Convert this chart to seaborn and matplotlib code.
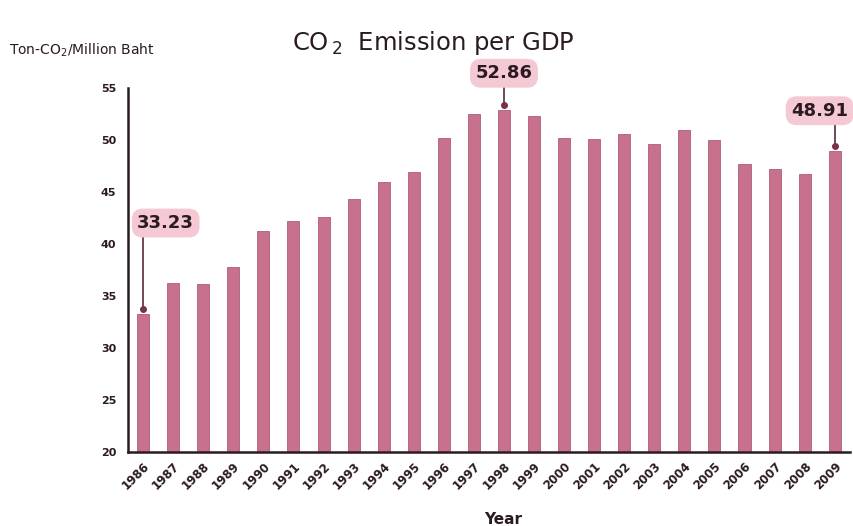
# CO2 emission per GDP, Thailand 1986-2009 (bar chart with highlighted values)

import matplotlib
matplotlib.use("Agg")
import matplotlib.pyplot as plt
import seaborn as sns

years = [str(y) for y in range(1986, 2010)]
emission = [33.23, 36.2, 36.1, 37.8, 41.2, 42.2, 42.6, 44.3, 45.9, 46.9,
            50.2, 52.5, 52.86, 52.3, 50.2, 50.1, 50.6, 49.6, 50.9, 50.0,
            47.7, 47.2, 46.7, 48.91]

# highlighted bars: year -> (label height, horizontal shift of the label)
highlights = {"1986": (42.0, 0.75), "1998": (56.4, 0.0), "2009": (52.8, -0.5)}

bar_color = "#C7718D"
dark = "#2a1a22"

sns.set_style("white")
plt.rcParams["font.family"] = ["DejaVu Sans"]

fig = plt.figure(figsize=(8.54, 5.26), dpi=100)
ax = fig.add_axes([0.150, 0.141, 0.845, 0.692])

sns.barplot(x=years, y=emission, color=bar_color, width=0.4,
            saturation=1, edgecolor="#b05a78", linewidth=0.6, ax=ax)

ax.set_ylim(20, 55)
ax.set_xlim(-0.5, len(years) - 0.5)
ax.set_yticks(range(20, 56, 5))
ax.set_xticks(range(len(years)))
ax.set_xticklabels(years, rotation=45, ha="right", rotation_mode="anchor",
                   fontsize=8.5, fontweight="bold", color=dark)
ax.set_xticks([i - 0.5 for i in range(len(years) + 1)], minor=True)
ax.tick_params(axis="x", which="major", length=0, pad=6)
ax.tick_params(axis="x", which="minor", length=5, width=1.5, direction="out", color=dark)
ax.tick_params(axis="y", length=5, width=1.5, direction="out", color=dark,
               labelsize=8)
for lab in ax.get_yticklabels():
    lab.set_fontweight("bold")
    lab.set_color(dark)

sns.despine(ax=ax)
for side in ["left", "bottom"]:
    ax.spines[side].set_linewidth(1.8)
    ax.spines[side].set_color(dark)

ax.set_xlabel("Year", fontsize=11, fontweight="bold", color=dark, labelpad=2)
ax.xaxis.set_label_coords(0.52, -0.165)
ax.set_ylabel("")

for yr, (label_y, shift) in highlights.items():
    i = years.index(yr)
    v = emission[i]
    ax.plot([i, i], [v + 0.5, label_y - 1.0], color="#5a2a3a", lw=1.2, clip_on=False)
    ax.plot(i, v + 0.5, "o", color="#7a3048", ms=4, clip_on=False)
    ax.text(i + shift, label_y, f"{v:.2f}", ha="center", va="center",
            fontsize=13, fontweight="bold", color=dark,
            bbox=dict(boxstyle="round,pad=0.3,rounding_size=0.6",
                      fc="#F4C9D3", ec="none"), clip_on=False)

fig.text(0.508, 0.918, r"CO$_{\,2}$  Emission per GDP", ha="center", va="center",
         fontsize=17.5, color=dark)
fig.text(0.010, 0.905, "Ton-CO$_2$/Million Baht", ha="left", va="center",
         fontsize=10, color=dark)

fig.savefig("out.png", dpi=100)
